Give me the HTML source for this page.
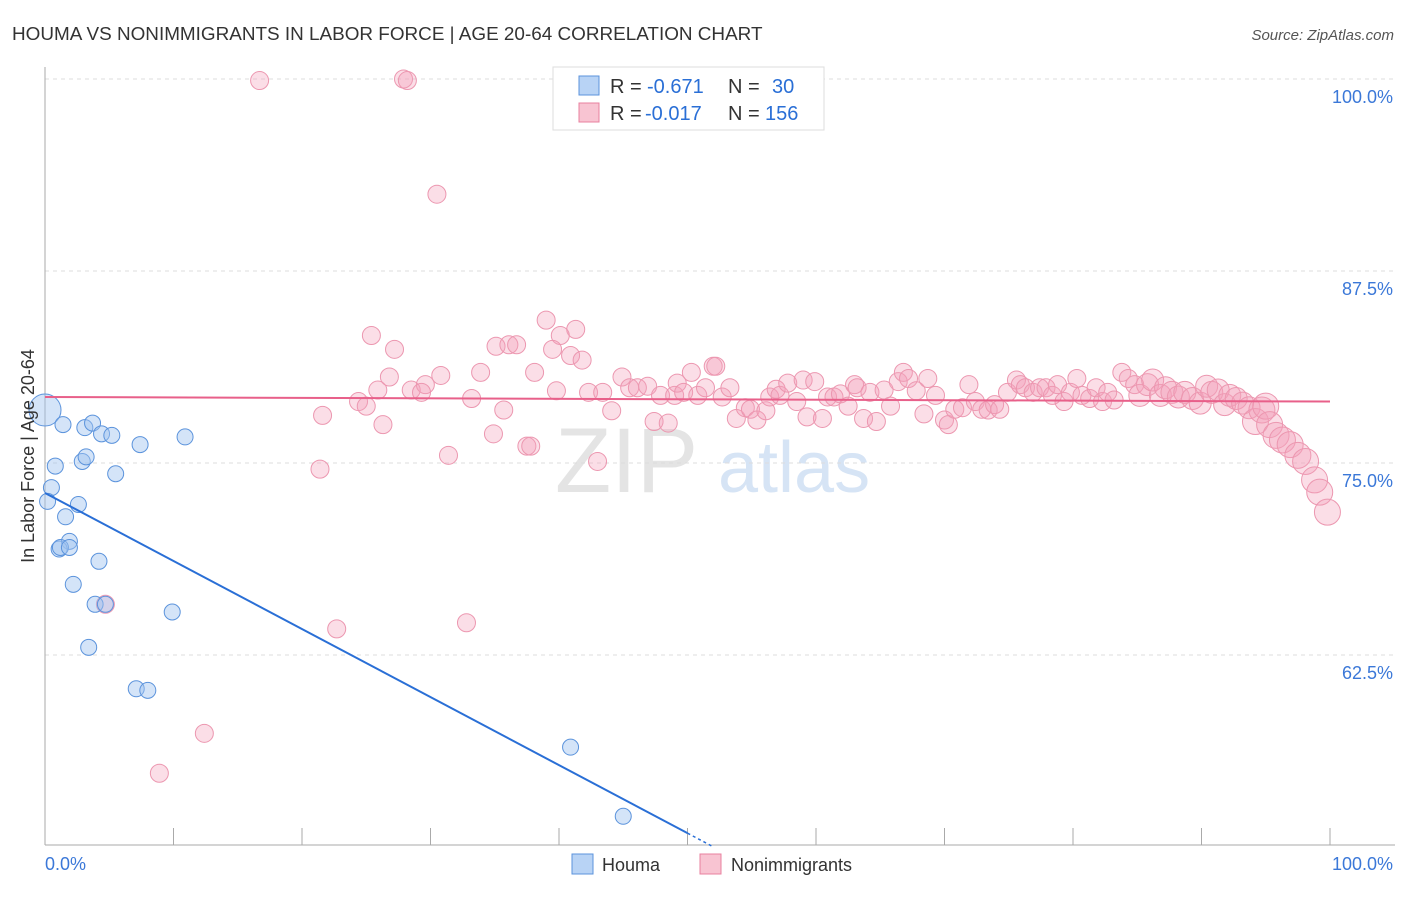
<!DOCTYPE html>
<html><head><meta charset="utf-8"><style>
body{margin:0;background:#fff;font-family:"Liberation Sans",sans-serif}
svg text{font-family:"Liberation Sans",sans-serif}
</style></head><body>
<svg id="chart" width="1406" height="892" viewBox="0 0 1406 892">
<text x="12" y="40" font-size="18.9" fill="#333">HOUMA VS NONIMMIGRANTS IN LABOR FORCE | AGE 20-64 CORRELATION CHART</text>
<text x="1394" y="40" font-size="15" fill="#555" font-style="italic" text-anchor="end">Source: ZipAtlas.com</text>
<text x="555" y="492" font-size="92" fill="#e4e4e4" font-family="Liberation Serif">ZIP</text>
<text x="718" y="492" font-size="72" fill="#d6e4f5">atlas</text>
<g id="grid"></g>
<g id="axes"></g>
<g id="marks"></g>
<text transform="translate(34,456) rotate(-90)" font-size="18" fill="#333" text-anchor="middle">In Labor Force | Age 20-64</text>
<g>
<rect x="553" y="67" width="271" height="63" fill="#fff" stroke="#ddd"/>
<rect x="579" y="76" width="20" height="19" fill="#b8d3f5" stroke="#5b93dc"/>
<text x="610" y="93" font-size="20" fill="#333">R =</text>
<text x="647" y="93" font-size="20" fill="#2a6fd6">-0.671</text>
<text x="728" y="93" font-size="20" fill="#333">N =</text>
<text x="772" y="93" font-size="20" fill="#2a6fd6">30</text>
<rect x="579" y="103" width="20" height="19" fill="#f8c4d2" stroke="#e8809f"/>
<text x="610" y="120" font-size="20" fill="#333">R =</text>
<text x="645" y="120" font-size="20" fill="#2a6fd6">-0.017</text>
<text x="728" y="120" font-size="20" fill="#333">N =</text>
<text x="765" y="120" font-size="20" fill="#2a6fd6">156</text>
</g>
<g>
<rect x="572" y="854" width="21" height="20" fill="#b8d3f5" stroke="#5b93dc"/>
<text x="602" y="871" font-size="18" fill="#333">Houma</text>
<rect x="700" y="854" width="21" height="20" fill="#f8c4d2" stroke="#e8809f"/>
<text x="731" y="871" font-size="18" fill="#333">Nonimmigrants</text>
</g>
</svg>
<script>
const yTicks=[100,87.5,75,62.5];
const yTickLabels=["100.0%","87.5%","75.0%","62.5%"];
const xTickLabels=["0.0%","100.0%"];
const houmaX=[0,1.4,3.1,3.7,4.4,5.2,7.4,10.9,0.8,2.9,3.2,5.5,0.5,0.2,2.6,1.6,1.9,1.1,1.2,1.9,4.2,2.2,3.9,4.7,9.9,3.4,7.1,8.0,40.9,45.0];
const houmaY=[78.45,77.5,77.3,77.6,76.9,76.8,76.2,76.7,74.8,75.1,75.4,74.3,73.4,72.5,72.3,71.5,69.9,69.4,69.5,69.5,68.6,67.1,65.8,65.8,65.3,63.0,60.3,60.2,56.5,52.0];
const nonX=[16.7,27.9,28.2,30.5,25.4,27.2,39.0,41.3,40.1,39.5,40.9,41.8,35.1,36.1,36.7,30.8,33.9,25.9,26.8,28.5,29.6,29.3,24.4,25.0,21.6,26.3,35.7,33.2,39.8,38.1,34.9,37.5,37.8,31.4,21.4,43.0,12.4,8.9,22.7,32.8,4.7,
42.3,43.4,44.1,44.9,45.5,46.1,46.9,47.4,47.9,48.5,49.0,49.2,49.7,50.3,50.8,51.4,52.0,52.2,52.7,53.3,53.8,54.5,54.9,55.4,56.1,56.4,56.9,57.2,57.8,58.5,59.0,59.3,59.9,60.5,60.9,61.4,61.9,62.5,63.0,63.2,63.7,64.2,64.7,65.3,65.8,66.4,66.8,67.2,67.8,68.4,68.7,69.3,70.0,70.3,70.8,71.4,71.9,72.4,72.9,73.4,73.9,74.3,74.9,75.6,75.9,76.3,76.9,77.4,77.9,78.4,78.8,79.3,79.8,80.3,80.7,81.3,81.8,82.3,82.7,83.2,83.8,84.3,84.8,85.2,85.8,86.2,86.8,87.2,87.7,88.2,88.7,89.3,89.9,90.4,90.8,91.3,91.8,92.2,92.7,93.2,93.7,94.2,94.7,95.0,95.3,95.8,96.3,96.9,97.5,98.1,98.8,99.2,99.8];
const nonY=[99.9,100,99.9,92.5,83.3,82.4,84.3,83.7,83.3,82.4,82.0,81.7,82.6,82.7,82.7,80.7,80.9,79.75,80.6,79.75,80.1,79.6,79.0,78.7,78.1,77.5,78.45,79.2,79.7,80.9,76.9,76.1,76.1,75.5,74.6,75.1,57.4,54.8,64.2,64.6,65.8,
79.6,79.6,78.4,80.6,79.9,79.9,80.0,77.7,79.4,77.6,79.4,80.2,79.6,80.9,79.4,79.9,81.3,81.3,79.3,79.9,77.9,78.6,78.5,77.8,78.4,79.3,79.8,79.4,80.2,79.0,80.4,78.0,80.3,77.9,79.3,79.3,79.5,78.7,80.1,79.9,77.9,79.6,77.7,79.75,78.7,80.3,80.9,80.5,79.7,78.2,80.5,79.4,77.8,77.5,78.5,78.6,80.1,79.0,78.5,78.45,78.8,78.5,79.6,80.4,80.1,79.9,79.6,79.9,79.9,79.4,80.1,79.0,79.6,80.5,79.4,79.2,79.9,79.0,79.6,79.1,80.9,80.5,80.1,79.4,80.1,80.4,79.4,79.9,79.6,79.3,79.6,79.2,78.9,80.0,79.6,79.75,78.8,79.4,79.2,78.9,78.6,77.7,78.45,78.7,77.5,76.8,76.5,76.2,75.5,75.1,73.9,73.1,71.8];
const houmaTrend=[73.05,50.9];
const nonTrend=[79.3,79.0];

const NS="http://www.w3.org/2000/svg";
const X0=45,X1=1330,Y100=79,PX_PER=15.36;
const sx=v=>X0+(X1-X0)*v/100;
const sy=v=>Y100+(100-v)*PX_PER;
function mk(tag,attrs,parent){const e=document.createElementNS(NS,tag);for(const k in attrs)e.setAttribute(k,attrs[k]);parent.appendChild(e);return e;}
const grid=document.getElementById('grid'),axes=document.getElementById('axes'),marks=document.getElementById('marks');
yTicks.forEach((t,i)=>{
  const l=mk('line',{x1:45,x2:1395,y1:sy(t),y2:sy(t),stroke:'#ddd','stroke-dasharray':'4,4'},grid);
  
  
  const tx=mk('text',{x:1393,y:sy(t)+24,'font-size':18,fill:'#3b78d8','text-anchor':'end'},grid);
  tx.textContent=yTickLabels[i];
  
  
});
const ya=mk('line',{x1:45,x2:45,y1:67,y2:845,stroke:'#aaa'},axes);


const xa=mk('line',{x1:45,x2:1395,y1:845,y2:845,stroke:'#aaa'},axes);


for(let v=0;v<=100;v+=10){
  const t=mk('line',{x1:sx(v),x2:sx(v),y1:828,y2:845,stroke:'#aaa'},axes);
  
  
}
[[0,'start',45],[100,'end',1393]].forEach((d,i)=>{
  const tx=mk('text',{x:d[2],y:870,'font-size':18,fill:'#3b78d8','text-anchor':d[1]},axes);
  tx.textContent=xTickLabels[i];
  
  
});
nonX.forEach((x,i)=>{
  const r=x>94?13:(x>85?11:9);
  const c=mk('circle',{cx:sx(x),cy:sy(nonY[i]),r:r,fill:'rgba(244,160,185,0.35)',stroke:'#ec97b0','stroke-width':1},marks);
  
  
});
houmaX.forEach((x,i)=>{
  const r=i===0?16:8;
  const c=mk('circle',{cx:sx(x),cy:sy(houmaY[i]),r:r,fill:'rgba(160,196,240,0.45)',stroke:'#5b93dc','stroke-width':1},marks);
  
  
});
const pl=mk('line',{x1:sx(0),y1:sy(nonTrend[0]),x2:sx(100),y2:sy(nonTrend[1]),stroke:'#e8608a','stroke-width':2},marks);


const slope=(houmaTrend[1]-houmaTrend[0])/50;
const bl=mk('line',{x1:sx(0),y1:sy(houmaTrend[0]),x2:sx(50),y2:sy(houmaTrend[1]),stroke:'#2a6fd6','stroke-width':2},marks);


const bd=mk('line',{x1:sx(50),y1:sy(houmaTrend[1]),x2:sx(52),y2:sy(houmaTrend[1]+slope*2),stroke:'#2a6fd6','stroke-width':1.5,'stroke-dasharray':'3,3'},marks);


</script>
</body></html>
